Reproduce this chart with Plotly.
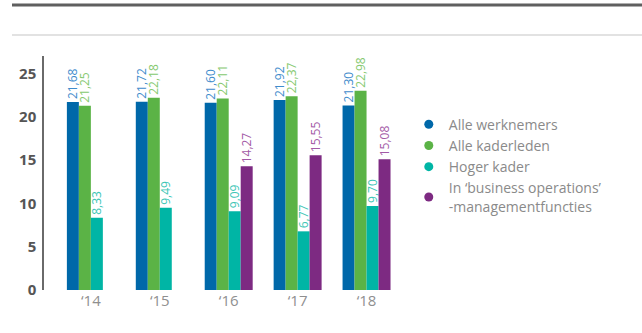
import plotly.graph_objects as go

# Years on the category axis
years = ["‘14", "‘15", "‘16", "‘17", "‘18"]

# Series values
alle_werknemers = [21.68, 21.72, 21.60, 21.92, 21.30]
alle_kaderleden = [21.25, 22.18, 22.11, 22.37, 22.98]
hoger_kader = [8.33, 9.49, 9.09, 6.77, 9.70]
business_operations = [None, None, 14.27, 15.55, 15.08]

series_names = [
    "Alle werknemers",
    "Alle kaderleden",
    "Hoger kader",
    "In ‘business operations’<br>-managementfuncties",
]
bar_colors = ["#0068a9", "#5bb346", "#00b5a5", "#7d2a82"]
label_colors = ["#3f8ccc", "#86c96f", "#3ec6b6", "#a35aa6"]

y_ticks = [0, 5, 10, 15, 20, 25]

FONT = "Open Sans"


def fmt(v):
    return "" if v is None else f"{v:.2f}".replace(".", ",")


fig = go.Figure()
all_series = [alle_werknemers, alle_kaderleden, hoger_kader, business_operations]
for name, vals, col, lcol in zip(series_names, all_series, bar_colors, label_colors):
    fig.add_trace(go.Bar(
        x=years,
        y=vals,
        marker=dict(color=col, line=dict(width=0)),
        text=[fmt(v) for v in vals],
        textposition="outside",
        textangle=-90,
        constraintext="none",
        cliponaxis=False,
        textfont=dict(family=FONT, size=12, color=lcol),
        showlegend=False,
        hoverinfo="skip",
    ))
    # round legend markers
    fig.add_trace(go.Scatter(
        x=[None], y=[None], mode="markers", name=name,
        marker=dict(color=col, size=9, symbol="circle"),
    ))

# Header rules above the chart
fig.add_shape(type="line", xref="paper", yref="paper",
              x0=-0.0535, x1=1.0, y0=1.2175, y1=1.2175,
              line=dict(color="#5f5f5f", width=3))
fig.add_shape(type="line", xref="paper", yref="paper",
              x0=-0.0535, x1=1.0, y0=1.0896, y1=1.0896,
              line=dict(color="#e2e2e2", width=2))

fig.update_layout(
    width=642,
    height=333,
    margin=dict(l=44, r=0, t=56, b=42.5),
    paper_bgcolor="white",
    plot_bgcolor="white",
    barmode="group",
    bargap=0.304,
    bargroupgap=0,
    font=dict(family=FONT),
    legend=dict(
        x=0.61, y=0.775, xanchor="left", yanchor="top",
        font=dict(family=FONT, size=14, color="#8a8a8a"),
        tracegroupgap=0,
        itemclick=False,
        bgcolor="rgba(0,0,0,0)",
    ),
    xaxis=dict(
        domain=[0, 0.597],
        range=[-0.68, 4.5],
        showline=False,
        showgrid=False,
        ticks="",
        tickfont=dict(family=FONT, size=15, color="#8f8f8f"),
        fixedrange=True,
    ),
    yaxis=dict(
        range=[0, 27],
        tickvals=y_ticks,
        showline=True,
        linecolor="#6a6a6a",
        linewidth=1.5,
        showgrid=False,
        zeroline=False,
        ticks="",
        ticklabelstandoff=3,
        tickfont=dict(family=FONT, size=15, color="#555555", weight="bold"),
        fixedrange=True,
    ),
)

fig.write_html("out.html")
